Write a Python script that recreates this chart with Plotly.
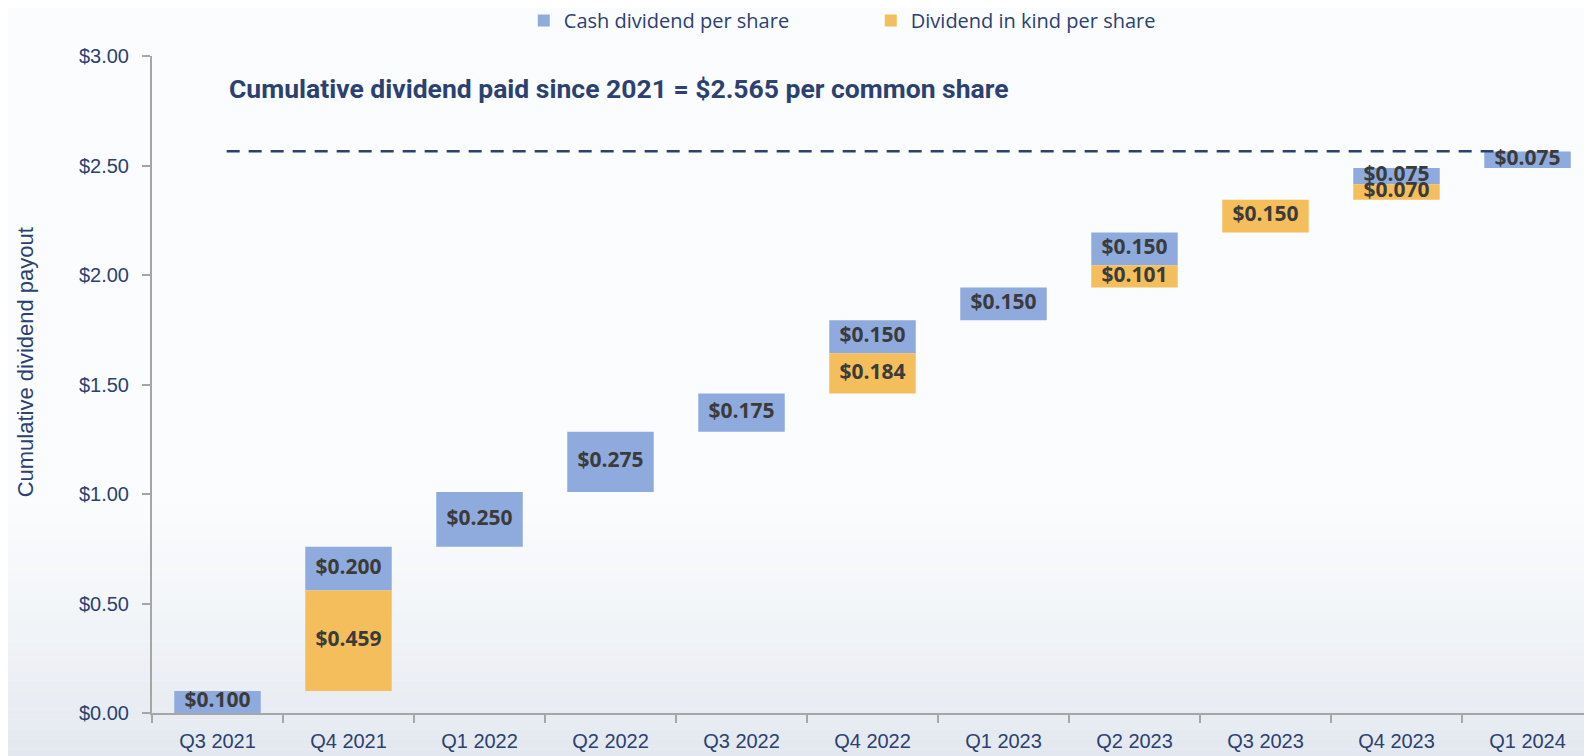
import plotly.graph_objects as go

quarters = ["Q3 2021", "Q4 2021", "Q1 2022", "Q2 2022", "Q3 2022", "Q4 2022",
            "Q1 2023", "Q2 2023", "Q3 2023", "Q4 2023", "Q1 2024"]
cash = [0.100, 0.200, 0.250, 0.275, 0.175, 0.150, 0.150, 0.150, 0.000, 0.075, 0.075]
in_kind = [0.000, 0.459, 0.000, 0.000, 0.000, 0.184, 0.000, 0.101, 0.150, 0.070, 0.000]
cumulative_total = 2.565
y_ticks = [0, 0.5, 1.0, 1.5, 2.0, 2.5, 3.0]

BLUE = "#8FAADC"
ORANGE = "#F4BE5C"
NAVY = "#2B4170"
LABEL = "#3B3B3B"

# waterfall bases: in-kind sits on the running total, cash on top of it
kind_base, cash_base = [], []
running = 0.0
for c, k in zip(cash, in_kind):
    kind_base.append(running)
    cash_base.append(running + k)
    running += c + k

fig = go.Figure()

fig.add_trace(go.Bar(
    x=quarters, y=cash, base=cash_base, name="Cash dividend per share",
    marker=dict(color=BLUE, line=dict(width=0)), width=0.66,
))
fig.add_trace(go.Bar(
    x=quarters, y=in_kind, base=kind_base, name="Dividend in kind per share",
    marker=dict(color=ORANGE, line=dict(width=0)), width=0.66,
))

# value labels at the middle of each block
for vals, bases in ((in_kind, kind_base), (cash, cash_base)):
    xs, ys, ts = [], [], []
    for q, v, b in zip(quarters, vals, bases):
        if v > 0:
            xs.append(q)
            ys.append(b + v / 2)
            ts.append(f"${v:.3f}")
    fig.add_trace(go.Scatter(
        x=xs, y=ys, text=ts, mode="text", showlegend=False, hoverinfo="skip",
        textfont=dict(family="Open Sans", size=21, color=LABEL, weight="bold"),
        cliponaxis=False,
    ))

# dashed cumulative line
fig.add_shape(type="line", xref="x", yref="y", x0=0.07, x1=9.74,
              y0=cumulative_total, y1=cumulative_total,
              line=dict(color=NAVY, width=2.5, dash="13px,9px"))

fig.add_annotation(
    text=f"Cumulative dividend paid since 2021 = ${cumulative_total:.3f} per common share",
    xref="paper", yref="paper", x=0.052, y=0.95, xanchor="left", yanchor="middle",
    showarrow=False,
    font=dict(family="Liberation Sans Narrow, Roboto", size=26.5, color=NAVY, weight="bold"),
)

# y axis title placed by hand (sits a bit above the plot centre)
fig.add_annotation(
    text="Cumulative dividend payout", textangle=-90,
    xref="paper", yref="paper", x=-0.088, y=0.534, xanchor="center", yanchor="middle",
    showarrow=False, font=dict(family="Liberation Sans", size=22, color=NAVY),
)

# faint background gradient toward the bottom
n = 30
for i in range(n):
    fig.add_shape(type="rect", xref="paper", yref="paper", layer="below",
                  x0=-0.2, x1=1.05, y0=-0.1 + i * 0.015, y1=-0.1 + (i + 1) * 0.015,
                  fillcolor="#dde3ec", opacity=0.9 * (1 - i / n) ** 1.5, line=dict(width=0))

fig.update_layout(
    width=1592, height=756,
    barmode="overlay",
    paper_bgcolor="#fbfcfd",
    plot_bgcolor="rgba(0,0,0,0)",
    margin=dict(l=144, r=7, t=48, b=51, autoexpand=False),
    font=dict(family="Liberation Sans", color=NAVY),
    showlegend=True,
    legend=dict(orientation="h", x=0.258, y=1.054, xanchor="left", yanchor="middle",
                font=dict(family="Liberation Sans Narrow, Open Sans", size=20, color=NAVY),
                entrywidth=302, itemwidth=30, bgcolor="rgba(0,0,0,0)"),
    xaxis=dict(
        type="category", categoryorder="array", categoryarray=quarters,
        showline=True, linecolor="#A6A6A6", linewidth=2,
        ticks="outside", tickson="boundaries", ticklen=8, tickcolor="#A6A6A6", tickwidth=2,
        tickfont=dict(size=20, color=NAVY), showgrid=False, ticklabelstandoff=9,
        range=[-0.5, 10.5],
    ),
    yaxis=dict(
        range=[0, 3.0], tickvals=y_ticks, ticktext=[f"${v:.2f}" for v in y_ticks],
        showline=True, linecolor="#A6A6A6", linewidth=2,
        ticks="outside", ticklen=8, tickcolor="#A6A6A6", tickwidth=2,
        tickfont=dict(size=20, color=NAVY), showgrid=False, zeroline=False,
        ticklabelstandoff=9,
    ),
)

fig.write_html("out.html")
